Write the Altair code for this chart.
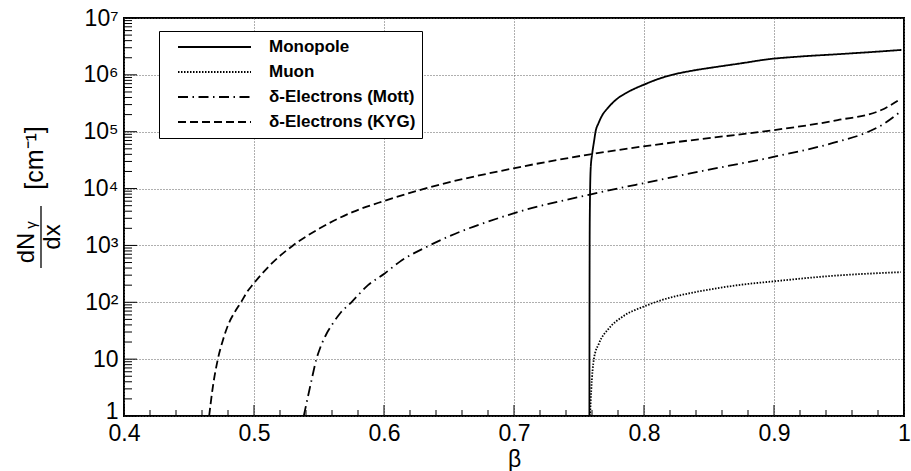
import altair as alt
import pandas as pd

# ---------------- data ----------------
series_names = ["Monopole", "Muon", "δ-Electrons (Mott)", "δ-Electrons (KYG)"]

mono_beta = [0.7580, 0.75805, 0.7581, 0.7583, 0.7590, 0.7602, 0.7615, 0.7628, 0.7650,
             0.7679, 0.7715, 0.7755, 0.7800, 0.7858, 0.7930, 0.8006, 0.8100, 0.8215,
             0.8350, 0.8570, 0.8750, 0.8957, 0.9200, 0.9490, 0.9750, 0.9980]
mono_val = [1, 10, 100, 3200, 22900, 41700, 66000, 102000, 141000,
            195000, 251000, 316000, 390000, 474000, 575000, 682000, 830000, 1000000,
            1160000, 1393000, 1600000, 1884000, 2100000, 2307000, 2520000, 2742000]

muon_beta = [0.7585, 0.7594, 0.7615, 0.7653, 0.7730, 0.7832, 0.8004, 0.8139, 0.8395,
             0.8752, 0.9001, 0.9417, 0.9975]
muon_val = [1, 2.8, 10.2, 18.8, 34.7, 55.3, 85.1, 110, 151, 204, 234, 288, 339]

mott_beta = [0.5383, 0.5415, 0.5442, 0.548, 0.551, 0.5558, 0.5605, 0.566, 0.5749, 0.5877,
             0.6005, 0.612, 0.635, 0.6996, 0.760, 0.8113, 0.842, 0.9003, 0.949, 0.9699,
             0.985, 0.9962]
mott_val = [1, 2.2, 4.2, 10, 16, 28, 42, 63, 100, 200,
            321, 514, 1000, 3660, 8000, 14100, 19800, 36300, 66700, 94000,
            140000, 216000]

kyg_beta = [0.4655, 0.4683, 0.4722, 0.4762, 0.4803, 0.485, 0.490, 0.4945, 0.4995, 0.5123,
            0.530, 0.5506, 0.5762, 0.6005, 0.635, 0.6996, 0.760, 0.8113, 0.842, 0.9003,
            0.949, 0.9826, 0.997]
kyg_val = [1, 3.2, 10, 22, 41, 66, 100, 150, 210, 450,
           1000, 2000, 3900, 6100, 10500, 22700, 40500, 60000, 73500, 107000,
           160000, 241000, 372000]

x_major = [0.4, 0.5, 0.6, 0.7, 0.8, 0.9, 1.0]
x_labels = ["0.4", "0.5", "0.6", "0.7", "0.8", "0.9", "1"]
x_minor = [0.42, 0.44, 0.46, 0.48, 0.52, 0.54, 0.56, 0.58, 0.62, 0.64, 0.66, 0.68,
           0.72, 0.74, 0.76, 0.78, 0.82, 0.84, 0.86, 0.88, 0.92, 0.94, 0.96, 0.98]
y_major = [1, 10, 100, 1000, 10000, 100000, 1000000, 10000000]
y_labels = ["1", "10", "10²", "10³", "10⁴", "10⁵", "10⁶", "10⁷"]
y_minor = [m * 10 ** k for k in range(7) for m in range(2, 10)]

dashes = [[1, 0], [1.5, 1.5], [10, 4.5, 1.5, 4.5], [8, 4]]

# ---------------- layout ----------------
W, H = 780, 398
FONT = "Liberation Sans"
GRID = "#5f5f5f"

rows = []
for name, bs, vs in [(series_names[0], mono_beta, mono_val),
                     (series_names[1], muon_beta, muon_val),
                     (series_names[2], mott_beta, mott_val),
                     (series_names[3], kyg_beta, kyg_val)]:
    for b, v in zip(bs, vs):
        rows.append({"beta": b, "value": v, "series": name})
df = pd.DataFrame(rows)

xscale = alt.Scale(domain=[0.4, 1.0], nice=False, zero=False)
yscale = alt.Scale(type="log", domain=[1, 1e7], nice=False)

xexpr = "[" + ",".join("'%s'" % l for l in x_labels) + "][round((datum.value-0.4)*10)]"
yexpr = "[" + ",".join("'%s'" % l for l in y_labels) + "][round(log(datum.value)/LN10)]"

xaxis = alt.Axis(values=x_major, labelExpr=xexpr, title="β", ticks=False, domain=False,
                 grid=True, gridColor=GRID, gridDash=[1, 2], gridWidth=1,
                 labelFont=FONT, labelFontSize=23, labelColor="black", labelPadding=6,
                 labelFlush=False, labelOverlap=False,
                 titleFont=FONT, titleFontSize=23, titleFontWeight="normal",
                 titleColor="black", titlePadding=3)
yaxis = alt.Axis(values=y_major, labelExpr=yexpr, title=None, ticks=False, domain=False,
                 grid=True, gridColor=GRID, gridDash=[1, 2], gridWidth=1,
                 labelFont=FONT, labelFontSize=23, labelColor="black", labelPadding=6,
                 labelOffset={"condition": {"test": "datum.value == 1", "value": -5},
                              "value": 0},
                 labelFlush=False, labelOverlap=False)

legend = alt.Legend(title=None, orient="none", legendX=35, legendY=13,
                    symbolType="stroke", symbolSize=5329, symbolStrokeWidth=1.8,
                    symbolStrokeColor="black", symbolOffset=12,
                    labelFont=FONT, labelFontSize=17, labelFontWeight="bold",
                    labelColor="black", labelOffset=17,
                    padding=6, rowPadding=5, clipHeight=20,
                    strokeColor="black", fillColor="white")

lines = alt.Chart(df).mark_line(interpolate="monotone", color="black",
                                strokeWidth=1.8, clip=True).encode(
    x=alt.X("beta:Q", scale=xscale, axis=xaxis),
    y=alt.Y("value:Q", scale=yscale, axis=yaxis),
    strokeDash=alt.StrokeDash("series:N", sort=series_names,
                              scale=alt.Scale(domain=series_names, range=dashes),
                              legend=legend),
)

# inward tick marks (ROOT style)
xt_major = alt.Chart(pd.DataFrame({"b": x_major})).mark_rule(color="black", strokeWidth=1).encode(
    x=alt.X("b:Q", scale=xscale), y=alt.value(H), y2=alt.value(H - 11))
xt_minor = alt.Chart(pd.DataFrame({"b": x_minor})).mark_rule(color="black", strokeWidth=1).encode(
    x=alt.X("b:Q", scale=xscale), y=alt.value(H), y2=alt.value(H - 6))
yt_major = alt.Chart(pd.DataFrame({"v": y_major})).mark_rule(color="black", strokeWidth=1).encode(
    y=alt.Y("v:Q", scale=yscale), x=alt.value(0), x2=alt.value(13))
yt_minor = alt.Chart(pd.DataFrame({"v": y_minor})).mark_rule(color="black", strokeWidth=1).encode(
    y=alt.Y("v:Q", scale=yscale), x=alt.value(0), x2=alt.value(8))


def rtext(s, x, y, size):
    return alt.Chart(pd.DataFrame({"t": [s]})).mark_text(
        angle=270, font=FONT, fontSize=size, color="black",
        align="center", baseline="middle").encode(
        x=alt.value(x), y=alt.value(y), text="t:N")


ytitle = [
    rtext("dN", -97, 230, 24),
    rtext("γ", -93, 207, 15),
    rtext("dx", -71, 219, 24),
    rtext("[cm⁻¹]", -89, 140, 25),
    alt.Chart(pd.DataFrame({"a": [0]})).mark_rule(color="black", strokeWidth=1.3).encode(
        x=alt.value(-83), y=alt.value(188), y2=alt.value(250)),
]

chart = alt.layer(xt_minor, xt_major, yt_minor, yt_major, lines, *ytitle).properties(
    width=W, height=H,
    padding={"left": 124, "top": 18, "right": 7, "bottom": 55},
    autosize=alt.AutoSizeParams(type="none"),
    background="white",
).configure_view(stroke="black", strokeWidth=2)

chart.save("out.html", embed_options={"renderer": "svg", "actions": False})
